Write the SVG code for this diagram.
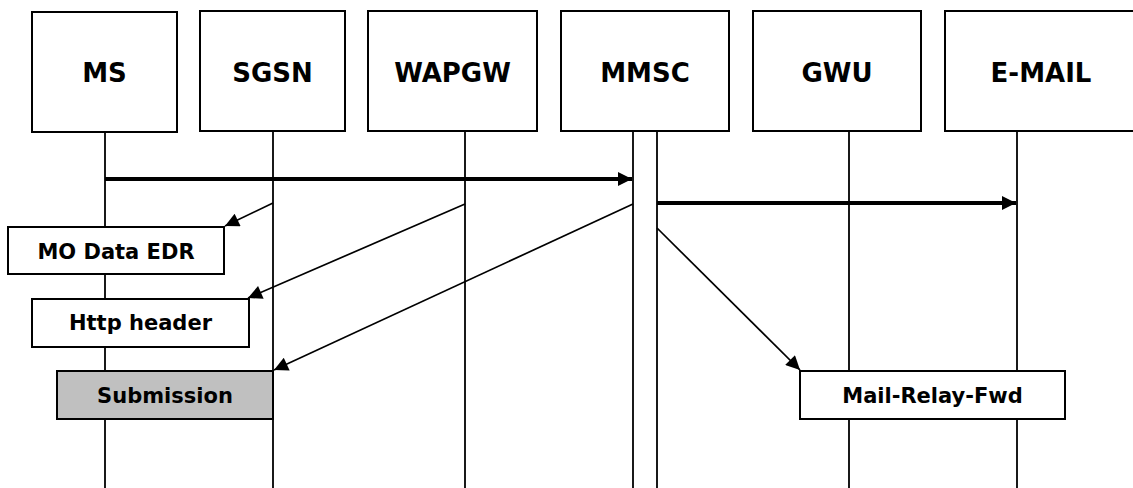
<svg xmlns="http://www.w3.org/2000/svg" width="1133" height="488" viewBox="0 0 1133 488">
  <style>
    .box { fill: #ffffff; stroke: #000000; stroke-width: 2; }
    .note { fill: #ffffff; stroke: #000000; stroke-width: 2; }
    .note.grey { fill: #c0c0c0; }
    .life { stroke: #000000; stroke-width: 1.8; fill: none; }
    .msg { stroke: #000000; stroke-width: 1.7; fill: none; }
    .msg.thick { stroke-width: 3.8; }
    .head { font-family: "DejaVu Sans", Verdana, sans-serif; font-weight: bold; font-size: 26px; text-anchor: middle; fill: #000000; }
    .lbl { font-family: "DejaVu Sans", Verdana, sans-serif; font-weight: bold; font-size: 21px; text-anchor: middle; fill: #000000; }
  </style>
  <defs>
    <marker id="arrow" viewBox="0 0 10 10" refX="10" refY="5" markerUnits="userSpaceOnUse" markerWidth="17" markerHeight="14" orient="auto">
      <path d="M0,0 L10,5 L0,10 Z" fill="#000000"/>
    </marker>
  </defs>

  <rect width="1133" height="488" fill="#ffffff"/>

  <!-- lifelines -->
  <g id="lifelines">
    <line class="life" x1="105" y1="132" x2="105" y2="488"/>
    <line class="life" x1="273" y1="131" x2="273" y2="488"/>
    <line class="life" x1="465" y1="131" x2="465" y2="488"/>
    <line class="life" x1="633" y1="131" x2="633" y2="488"/>
    <line class="life" x1="657" y1="131" x2="657" y2="488"/>
    <line class="life" x1="849" y1="131" x2="849" y2="488"/>
    <line class="life" x1="1017" y1="131" x2="1017" y2="488"/>
  </g>

  <!-- participants -->
  <g id="ms">
    <rect class="box" x="32" y="12" width="145" height="120"/>
    <text class="head" x="104.5" y="82">MS</text>
  </g>
  <g id="sgsn">
    <rect class="box" x="200" y="11" width="145" height="120"/>
    <text class="head" x="272.5" y="82">SGSN</text>
  </g>
  <g id="wapgw">
    <rect class="box" x="368" y="11" width="169" height="120"/>
    <text class="head" x="452.5" y="82">WAPGW</text>
  </g>
  <g id="mmsc">
    <rect class="box" x="561" y="11" width="168" height="120"/>
    <text class="head" x="645" y="82">MMSC</text>
  </g>
  <g id="gwu">
    <rect class="box" x="753" y="11" width="168" height="120"/>
    <text class="head" x="837" y="82">GWU</text>
  </g>
  <g id="email">
    <rect class="box" x="945" y="11" width="200" height="120"/>
    <text class="head" x="1041" y="82">E-MAIL</text>
  </g>

  <!-- records -->
  <g id="mo-data-edr">
    <rect class="note" x="8" y="227" width="216" height="47"/>
    <text class="lbl" x="116" y="258.5">MO Data EDR</text>
  </g>
  <g id="http-header">
    <rect class="note" x="32" y="299" width="217" height="48"/>
    <text class="lbl" x="140.5" y="329.5">Http header</text>
  </g>
  <g id="submission">
    <rect class="note grey" x="57" y="371" width="216" height="48"/>
    <text class="lbl" x="165" y="402.5">Submission</text>
  </g>
  <g id="mail-relay-fwd">
    <rect class="note" x="800" y="371" width="265" height="48"/>
    <text class="lbl" x="932.5" y="402.5">Mail-Relay-Fwd</text>
  </g>

  <!-- messages -->
  <g id="connectors">
    <line class="msg thick" x1="105" y1="179" x2="632" y2="179" marker-end="url(#arrow)"/>
    <line class="msg thick" x1="657" y1="203" x2="1016" y2="203" marker-end="url(#arrow)"/>
    <line class="msg" x1="273" y1="203" x2="225" y2="226" marker-end="url(#arrow)"/>
    <line class="msg" x1="465" y1="204" x2="248" y2="298" marker-end="url(#arrow)"/>
    <line class="msg" x1="633" y1="204" x2="274" y2="370" marker-end="url(#arrow)"/>
    <line class="msg" x1="657" y1="228" x2="800" y2="370" marker-end="url(#arrow)"/>
  </g>
</svg>
